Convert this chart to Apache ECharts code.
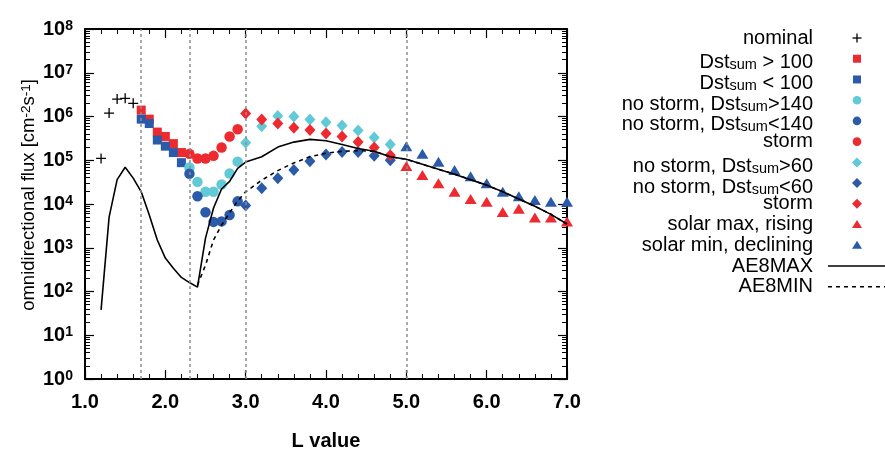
<!DOCTYPE html>
<html>
<head>
<meta charset="utf-8">
<script src="https://cdn.jsdelivr.net/npm/echarts@6/dist/echarts.min.js"></script>
<style>
html,body{margin:0;padding:0;background:#fff;}
#chart{width:885px;height:449px;}
</style>
</head>
<body>
<div id="chart"></div>
<script>
// ---------- data ----------
const xTicks = [1, 2, 3, 4, 5, 6, 7];
const refLines = [1.7, 2.3, 3.0, 5.0];

const L_nominal = [1.2, 1.3, 1.4, 1.5, 1.6];
const nominal = [1.1e5, 1.2e6, 2.5e6, 2.6e6, 2.0e6];

const L_square = [1.7, 1.8, 1.9, 2.0, 2.1, 2.2];
const dstAbove100 = [1.4e6, 8.7e5, 4.4e5, 3.5e5, 2.4e5, 1.5e5];
const dstBelow100 = [8.7e5, 6.9e5, 2.9e5, 2.1e5, 1.5e5, 8.8e4];

const L_circle = [2.3, 2.4, 2.5, 2.6, 2.7, 2.8, 2.9];
const noStormAbove140 = [6.8e4, 3.2e4, 1.9e4, 1.9e4, 2.8e4, 5.0e4, 9.3e4];
const noStormBelow140 = [4.9e4, 1.5e4, 6.5e3, 3.9e3, 4.0e3, 5.6e3, 1.15e4];
const stormCircle = [1.4e5, 1.1e5, 1.1e5, 1.26e5, 1.95e5, 3.5e5, 5.1e5];

const L_diamond = [3.0, 3.2, 3.4, 3.6, 3.8, 4.0, 4.2, 4.4, 4.6, 4.8];
const noStormAbove60 = [2.5e5, 6.0e5, 1.02e6, 1.0e6, 8.5e5, 7.4e5, 6.2e5, 4.8e5, 3.3e5, 2.3e5];
const noStormBelow60 = [9.3e3, 2.3e4, 3.9e4, 6.0e4, 9.5e4, 1.35e5, 1.55e5, 1.55e5, 1.26e5, 1.0e5];
const stormDiamond = [1.17e6, 8.5e5, 6.9e5, 5.5e5, 4.9e5, 4.1e5, 3.5e5, 2.6e5, 1.95e5, 1.3e5];

const L_triangle = [5.0, 5.2, 5.4, 5.6, 5.8, 6.0, 6.2, 6.4, 6.6, 6.8, 7.0];
const solarMaxRising = [7.4e4, 4.6e4, 3.0e4, 1.9e4, 1.3e4, 1.12e4, 6.6e3, 7.8e3, 4.9e3, 4.9e3, 4.0e3];
const solarMinDeclining = [2.1e5, 1.4e5, 9.3e4, 6.0e4, 4.3e4, 3.0e4, 1.9e4, 1.5e4, 1.23e4, 1.12e4, 1.12e4];

const L_ae8max = [1.2, 1.3, 1.4, 1.5, 1.6, 1.7, 1.8, 1.9, 2.0, 2.1, 2.2, 2.3, 2.4, 2.5, 2.6, 2.7, 2.8, 2.9, 3.0,
  3.2, 3.4, 3.6, 3.8, 4.0, 4.2, 4.4, 4.6, 4.8, 5.0, 5.2, 5.4, 5.6, 5.8, 6.0, 6.2, 6.4, 6.6, 6.8, 7.0];
const ae8max = [38, 5.0e3, 3.6e4, 6.9e4, 3.9e4, 1.9e4, 5.6e3, 1.5e3, 5.8e2, 3.4e2, 2.1e2, 1.6e2, 1.26e2, 1.66e3, 8.1e3, 2.2e4, 3.3e4, 6.5e4, 9.1e4,
  1.2e5, 2.0e5, 2.6e5, 3.0e5, 2.8e5, 2.3e5, 1.86e5, 1.6e5, 1.2e5, 1.05e5, 8.1e4, 6.2e4, 4.8e4, 3.6e4, 2.7e4, 1.9e4, 1.3e4, 8.9e3, 5.8e3, 3.5e3];

const L_ae8min = [2.4, 2.5, 2.6, 2.7, 2.8, 2.9, 3.0, 3.2, 3.4, 3.6, 3.8, 4.0, 4.2, 4.4, 4.6, 4.8, 5.0, 5.2, 5.4, 5.6, 5.8, 6.0, 6.2, 6.4, 6.6, 6.8, 7.0];
const ae8min = [1.4e2, 4.0e2, 1.5e3, 3.3e3, 6.3e3, 1.17e4, 1.9e4, 3.5e4, 5.8e4, 8.7e4, 1.2e5, 1.45e5, 1.6e5, 1.66e5, 1.6e5,
  1.2e5, 1.05e5, 8.1e4, 6.2e4, 4.8e4, 3.6e4, 2.7e4, 1.9e4, 1.3e4, 8.9e3, 5.8e3, 3.5e3];

const legendLabels = [
  'nominal',
  'Dst{sub|sum}{t| > 100}',
  'Dst{sub|sum}{t| < 100}',
  'no storm, Dst{sub|sum}{t|>140}',
  'no storm, Dst{sub|sum}{t|<140}',
  'storm',
  'no storm, Dst{sub|sum}{t|>60}',
  'no storm, Dst{sub|sum}{t|<60}',
  'storm',
  'solar max, rising',
  'solar min, declining',
  'AE8MAX',
  'AE8MIN'
];

// ---------- styles ----------
const RED = '#ec2a30';
const BLUE = '#2b5ba8';
const CYAN = '#62c9d6';
const FONT = '"Liberation Sans", Arial, Helvetica, sans-serif';
const PLUS = 'path://M4.35,0h1.3v4.35h4.35v1.3h-4.35v4.35h-1.3v-4.35h-4.35v-1.3h4.35z';

const pairs = (xs, ys) => xs.map((x, i) => [x, ys[i]]);

function scatter(name, xs, ys, symbol, size, color) {
  return {
    name, type: 'scatter', data: pairs(xs, ys), symbol, symbolSize: size,
    itemStyle: { color, opacity: 1 }, z: 3, silent: true, clip: false
  };
}

const series = [
  {
    name: 'ref', type: 'line', data: [], z: 1, silent: true,
    markLine: {
      silent: true, symbol: ['none', 'none'], label: { show: false },
      lineStyle: { color: '#8e8e8e', type: [3, 3], width: 1.5 },
      data: refLines.map(v => ({ xAxis: v }))
    }
  },
  scatter('nominal', L_nominal, nominal, PLUS, 10, '#000'),
  scatter('dst>100', L_square, dstAbove100, 'rect', 9, RED),
  scatter('dst<100', L_square, dstBelow100, 'rect', 9, BLUE),
  scatter('ns>140', L_circle, noStormAbove140, 'circle', 10.5, CYAN),
  scatter('ns<140', L_circle, noStormBelow140, 'circle', 10.5, BLUE),
  scatter('stormC', L_circle, stormCircle, 'circle', 10.5, RED),
  scatter('ns>60', L_diamond, noStormAbove60, 'diamond', [11, 12], CYAN),
  scatter('ns<60', L_diamond, noStormBelow60, 'diamond', [11, 12], BLUE),
  scatter('stormD', L_diamond, stormDiamond, 'diamond', [11, 12], RED),
  scatter('solarMax', L_triangle, solarMaxRising, 'triangle', [12, 10], RED),
  scatter('solarMin', L_triangle, solarMinDeclining, 'triangle', [12, 10], BLUE),
  {
    name: 'AE8MAX', type: 'line', data: pairs(L_ae8max, ae8max), symbol: 'none', showSymbol: false,
    lineStyle: { color: '#000', width: 1.6 }, z: 4, silent: true
  },
  {
    name: 'AE8MIN', type: 'line', data: pairs(L_ae8min, ae8min), symbol: 'none', showSymbol: false,
    lineStyle: { color: '#000', width: 1.6, type: [4, 4] }, z: 4, silent: true
  }
];

// ---------- legend (drawn at right) ----------
const LEG_TEXT_X = 813, LEG_ICON_X = 857, LEG_Y0 = 38, LEG_DY = 20.73;
const legendRich = {
  t: { fontSize: 20, fontFamily: FONT, color: '#000', lineHeight: 20, verticalAlign: 'top' },
  sub: { fontSize: 14.5, fontFamily: FONT, color: '#000', lineHeight: 14, verticalAlign: 'bottom', padding: [14, 0, 0, 0] }
};
const graphics = [];
legendLabels.forEach((lab, i) => {
  const y = LEG_Y0 + i * LEG_DY;
  const hasSub = lab.indexOf('{sub') >= 0;
  const txt = hasSub ? '{t|' + lab.replace(/^([^{]*)\{sub/, '$1}{sub') : '{t|' + lab + '}';
  graphics.push({
    type: 'text', x: LEG_TEXT_X, y: hasSub ? y + 4 : y, silent: true,
    style: { text: txt, align: 'right', verticalAlign: 'middle', rich: legendRich, fill: '#000' }
  });
});
function legY(i) { return LEG_Y0 + i * LEG_DY; }
const cx = LEG_ICON_X;
// plus
graphics.push({ type: 'line', shape: { x1: cx - 4.5, y1: legY(0), x2: cx + 4.5, y2: legY(0) }, style: { stroke: '#000', lineWidth: 1.3 } });
graphics.push({ type: 'line', shape: { x1: cx, y1: legY(0) - 4.5, x2: cx, y2: legY(0) + 4.5 }, style: { stroke: '#000', lineWidth: 1.3 } });
// squares
graphics.push({ type: 'rect', shape: { x: cx - 4, y: legY(1) - 4, width: 8, height: 8 }, style: { fill: RED } });
graphics.push({ type: 'rect', shape: { x: cx - 4, y: legY(2) - 4, width: 8, height: 8 }, style: { fill: BLUE } });
// circles
graphics.push({ type: 'circle', shape: { cx: cx, cy: legY(3), r: 4.3 }, style: { fill: CYAN } });
graphics.push({ type: 'circle', shape: { cx: cx, cy: legY(4), r: 4.3 }, style: { fill: BLUE } });
graphics.push({ type: 'circle', shape: { cx: cx, cy: legY(5), r: 4.3 }, style: { fill: RED } });
// diamonds
function diamond(i, c) {
  const y = legY(i);
  return { type: 'polygon', shape: { points: [[cx, y - 5], [cx + 5, y], [cx, y + 5], [cx - 5, y]] }, style: { fill: c } };
}
graphics.push(diamond(6, CYAN), diamond(7, BLUE), diamond(8, RED));
function tri(i, c) {
  const y = legY(i);
  return { type: 'polygon', shape: { points: [[cx, y - 4.5], [cx + 5, y + 3.5], [cx - 5, y + 3.5]] }, style: { fill: c } };
}
graphics.push(tri(9, RED), tri(10, BLUE));
graphics.push({ type: 'line', shape: { x1: 828, y1: legY(11), x2: 885, y2: legY(11) }, style: { stroke: '#000', lineWidth: 1.6 } });
graphics.push({ type: 'line', shape: { x1: 828, y1: legY(12), x2: 885, y2: legY(12) }, style: { stroke: '#000', lineWidth: 1.6, lineDash: [4, 4] } });

// ---------- axes ----------
const axisLine = { show: true, onZero: false, lineStyle: { color: '#000', width: 2 } };
const xCommon = {
  type: 'value', min: xTicks[0], max: xTicks[xTicks.length - 1], interval: 1,
  axisLine, splitLine: { show: false },
  axisTick: { show: true, inside: true, length: 9, lineStyle: { color: '#000', width: 1.2 } },
  minorTick: { show: true, splitNumber: 5, length: 5, lineStyle: { color: '#000', width: 1 } }
};
const yCommon = {
  type: 'log', logBase: 10, min: 1, max: 1e8, splitNumber: 8,
  axisLine, splitLine: { show: false },
  axisTick: { show: true, inside: true, length: 9, lineStyle: { color: '#000', width: 1.2 } },
  minorTick: { show: true, splitNumber: 9, length: 5, lineStyle: { color: '#000', width: 1 } }
};

const option = {
  animation: false,
  backgroundColor: '#fff',
  grid: { left: 85, top: 29, width: 482, height: 350, containLabel: false, outerBoundsMode: 'none' },
  graphic: graphics,
  xAxis: [
    Object.assign({}, xCommon, {
      position: 'bottom',
      axisLabel: {
        show: true, margin: 13, color: '#000', fontSize: 20, fontWeight: 'bold', fontFamily: FONT,
        formatter: v => v.toFixed(1)
      },
      name: 'L value', nameLocation: 'middle', nameGap: 52, nameMoveOverlap: false,
      nameTextStyle: { color: '#000', fontSize: 20, fontWeight: 'bold', fontFamily: FONT }
    }),
    Object.assign({}, xCommon, { position: 'top', axisLabel: { show: false } })
  ],
  yAxis: [
    Object.assign({}, yCommon, {
      position: 'left',
      axisLabel: {
        show: true, margin: 12, color: '#000',
        formatter: v => '{b|10}{s|' + Math.round(Math.log10(v)) + '}',
        rich: {
          b: { fontSize: 20, fontWeight: 'bold', fontFamily: FONT, color: '#000', lineHeight: 20, verticalAlign: 'bottom' },
          s: { fontSize: 14, fontWeight: 'bold', fontFamily: FONT, color: '#000', lineHeight: 14, verticalAlign: 'top', padding: [0, 0, 12, 0] }
        }
      },
      name: '{t|omnidirectional flux [cm}{s|-2}{t|s}{s|-1}{t|]}',
      nameLocation: 'middle', nameRotate: 90, nameGap: 47, nameMoveOverlap: false,
      nameTextStyle: {
        color: '#000', fontFamily: FONT, padding: [0, 0, 0, 18],
        rich: {
          t: { fontSize: 18.5, fontFamily: FONT, color: '#000', lineHeight: 19, verticalAlign: 'bottom' },
          s: { fontSize: 13.5, fontFamily: FONT, color: '#000', lineHeight: 14, verticalAlign: 'top', padding: [0, 0, 9, 0] }
        }
      }
    }),
    Object.assign({}, yCommon, { position: 'right', axisLabel: { show: false } })
  ],
  series
};

const chart = echarts.init(document.getElementById('chart'), null, { renderer: 'canvas' });
chart.setOption(option);
</script>
</body>
</html>
